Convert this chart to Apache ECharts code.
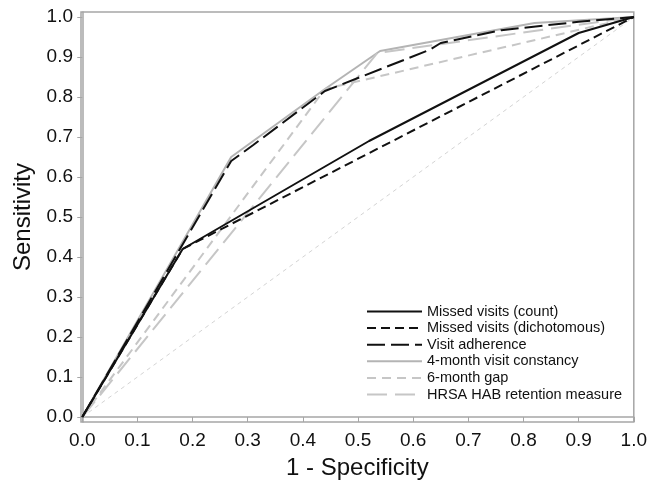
<!DOCTYPE html>
<html>
<head>
<meta charset="utf-8">
<script src="https://cdn.jsdelivr.net/npm/echarts@6/dist/echarts.min.js"></script>
<style>
  html, body { margin: 0; padding: 0; background: #fff; }
  #rocChart { width: 650px; height: 493px; }
</style>
</head>
<body>
<div id="rocChart"></div>
<script>
// 刻度
var tickValues = [0, 0.1, 0.2, 0.3, 0.4, 0.5, 0.6, 0.7, 0.8, 0.9, 1.0];

// 图例名称（按图例顺序）
var seriesNames = [
    'Missed visits (count)',
    'Missed visits (dichotomous)',
    'Visit adherence',
    '4-month visit constancy',
    '6-month gap',
    'HRSA HAB retention measure'
];

// ROC 曲线上的点：1 - 特异度 / 敏感度
var missedCountFpr = [0, 0.182, 0.52, 0.90, 1.0];
var missedCountTpr = [0, 0.42, 0.69, 0.96, 1.0];

var missedDichFpr = [0, 0.182, 1.0];
var missedDichTpr = [0, 0.42, 1.0];

var adherenceFpr = [0, 0.27, 0.31, 0.44, 0.63, 0.65, 0.76, 0.90, 1.0];
var adherenceTpr = [0, 0.64, 0.68, 0.815, 0.918, 0.935, 0.967, 0.988, 1.0];

var constancyFpr = [0, 0.27, 0.44, 0.54, 0.82, 1.0];
var constancyTpr = [0, 0.65, 0.82, 0.915, 0.985, 1.0];

var gapFpr = [0, 0.44, 1.0];
var gapTpr = [0, 0.82, 1.0];

var hrsaFpr = [0, 0.535, 1.0];
var hrsaTpr = [0, 0.91, 1.0];

var chanceFpr = [0, 1.0];
var chanceTpr = [0, 1.0];

function pairs(xs, ys) {
    var out = [];
    for (var i = 0; i < xs.length; i++) {
        out.push([xs[i], ys[i]]);
    }
    return out;
}

var fontName = "'Liberation Sans', Arial, sans-serif";
var frameGray = '#a6a6a6';

function rocLine(name, xs, ys, color, dash, z) {
    return {
        name: name,
        type: 'line',
        data: pairs(xs, ys),
        symbol: 'none',
        z: z,
        lineStyle: { color: color, width: 2, type: dash },
        itemStyle: { color: color }
    };
}

var myChart = echarts.init(document.getElementById('rocChart'));

myChart.setOption({
    animation: false,
    backgroundColor: '#fff',
    grid: {
        left: 81, right: 8, top: 12, bottom: 71,
        show: true,
        borderColor: frameGray,
        borderWidth: 1.5
    },
    legend: {
        data: seriesNames,
        orient: 'vertical',
        left: 366,
        top: 304,
        padding: 0,
        itemWidth: 55,
        itemHeight: 14,
        itemGap: 1.6,
        align: 'left',
        // 只显示线条，不显示圆点
        itemStyle: { color: 'rgba(0,0,0,0)', opacity: 0, borderWidth: 0 },
        textStyle: { fontFamily: fontName, fontSize: 14.5, color: '#111' }
    },
    xAxis: {
        type: 'value',
        min: -0.0023,
        max: 1.0,
        name: '1 - Specificity',
        nameLocation: 'middle',
        nameGap: 34,
        nameTextStyle: { fontFamily: fontName, fontSize: 24, color: '#111' },
        axisLine: { show: true, lineStyle: { color: frameGray, width: 1.5 } },
        axisTick: { show: true, length: 5, customValues: tickValues, lineStyle: { color: frameGray } },
        axisLabel: {
            customValues: tickValues,
            margin: 9,
            fontFamily: fontName,
            fontSize: 19,
            color: '#111',
            formatter: function (v) { return v.toFixed(1); }
        },
        splitLine: { show: false }
    },
    yAxis: {
        type: 'value',
        min: -0.0125,
        max: 1.0125,
        name: 'Sensitivity',
        nameLocation: 'middle',
        nameGap: 38,
        nameTextStyle: { fontFamily: fontName, fontSize: 24, color: '#111' },
        axisLine: { show: true, lineStyle: { color: frameGray, width: 1.5 } },
        axisTick: { show: true, length: 5, customValues: tickValues, lineStyle: { color: frameGray } },
        axisLabel: {
            customValues: tickValues,
            margin: 8,
            fontFamily: fontName,
            fontSize: 19,
            color: '#111',
            formatter: function (v) { return v.toFixed(1); }
        },
        splitLine: { show: false }
    },
    series: [
        rocLine(seriesNames[0], missedCountFpr, missedCountTpr, '#111', 'solid', 5),
        rocLine(seriesNames[1], missedDichFpr, missedDichTpr, '#111', [9, 5], 5),
        rocLine(seriesNames[2], adherenceFpr, adherenceTpr, '#111', [18, 6], 5),
        rocLine(seriesNames[3], constancyFpr, constancyTpr, '#b4b4b4', 'solid', 3),
        rocLine(seriesNames[4], gapFpr, gapTpr, '#c6c6c6', [9, 6], 3),
        rocLine(seriesNames[5], hrsaFpr, hrsaTpr, '#c6c6c6', [20, 8], 3),
        {
            name: 'chance',
            type: 'line',
            data: pairs(chanceFpr, chanceTpr),
            symbol: 'none',
            z: 1,
            silent: true,
            lineStyle: { color: '#d4d4d4', width: 1, type: [4, 4] }
        }
    ]
});
</script>
</body>
</html>
